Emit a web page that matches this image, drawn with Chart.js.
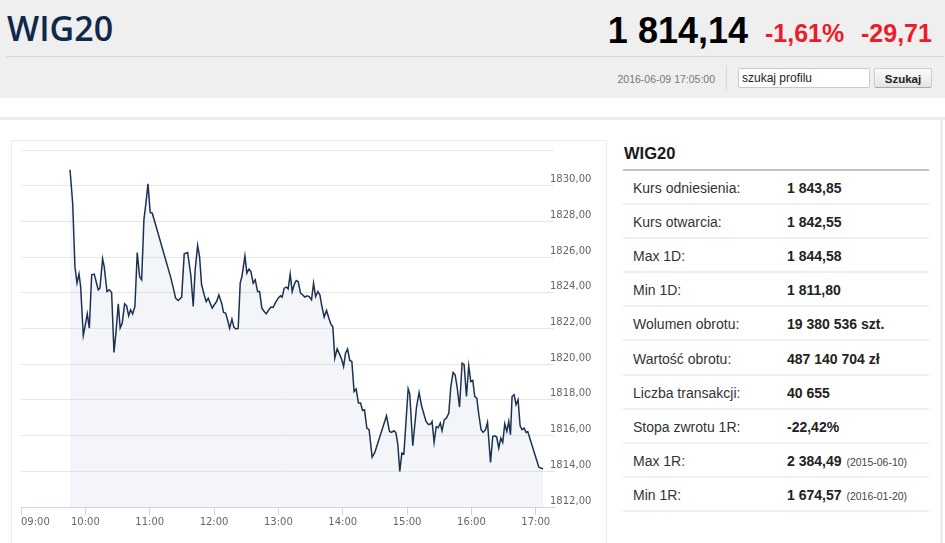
<!DOCTYPE html>
<html lang="pl">
<head>
<meta charset="utf-8">
<script src="https://cdn.jsdelivr.net/npm/chart.js@4.4.1/dist/chart.umd.min.js"></script>
<style>
  html, body { margin: 0; padding: 0; background: #fff; }
  body { width: 945px; height: 543px; overflow: hidden; position: relative; font-family: "Liberation Sans", Arial, sans-serif; }
  .abs { position: absolute; white-space: nowrap; }
  #hdr { left: 0; top: 0; width: 945px; height: 98px; background: #efefef; }
  #title { left: 7px; top: 10.5px; font: 600 34px/34px "Open Sans", sans-serif; color: #10294b; }
  #price { right: 197px; top: 12.8px; font: bold 36px/36px "Liberation Sans", Arial, sans-serif; color: #000; }
  #pct { left: 765px; top: 20.5px; font: bold 25px/25px "Liberation Sans", Arial, sans-serif; color: #ec1c2a; }
  #chg { left: 861px; top: 20.5px; font: bold 25px/25px "Liberation Sans", Arial, sans-serif; color: #ec1c2a; }
  #rule { left: 6px; top: 56px; width: 937px; height: 1px; background: #d6d6d6; }
  #date { right: 230px; top: 73.9px; font: 10.5px/10.5px "Liberation Sans", Arial, sans-serif; color: #777; }
  #vsep { left: 726px; top: 65px; width: 1px; height: 26px; background: #d9d9d9; }
  #search { left: 738px; top: 68px; width: 127px; height: 18px; background: #fff; border: 1px solid #cacaca; border-radius: 2px; padding-left: 3px; font: 12px/18px "Liberation Sans", Arial, sans-serif; color: #222; }
  #btn { left: 874px; top: 68px; width: 56px; height: 18px; border: 1px solid #cfcfcf; border-bottom-color: #aaa; border-radius: 2px; background: linear-gradient(#fbfbfb, #e4e4e4); font: bold 11.5px/20px "Liberation Sans", Arial, sans-serif; color: #222; text-align: center; }
  #band { left: 0; top: 117px; width: 945px; height: 3px; background: #ececec; }
  #rstrip { left: 940px; top: 120px; width: 3px; height: 423px; background: #eeeeee; }
  #card { left: 11px; top: 140px; width: 594px; height: 420px; border: 1px solid #ececec; background: #fff; }
  #chartBox { position: absolute; left: 12px; top: 141px; width: 594px; height: 402px; }
  #ttl2 { left: 624px; top: 144.5px; font: bold 16.5px/17px "Liberation Sans", Arial, sans-serif; color: #1a1a1a; }
  #ttlRule { left: 623px; top: 169px; width: 306px; height: 2px; background: #c4c4c4; }
  .sep { position: absolute; left: 623px; width: 306px; height: 2px; background: #f0f0f0; }
  .lab { position: absolute; left: 633px; font: 14px/14px "Liberation Sans", Arial, sans-serif; color: #333; white-space: nowrap; }
  .val { position: absolute; left: 787px; font: bold 14px/14px "Liberation Sans", Arial, sans-serif; color: #222; white-space: nowrap; }
  .val small { font: normal 10.5px "Liberation Sans", Arial, sans-serif; color: #444; margin-left: 2px; }
</style>
</head>
<body>
<div id="hdr" class="abs"></div>
<div id="title" class="abs">WIG20</div>
<div id="price" class="abs">1 814,14</div>
<div id="pct" class="abs">-1,61%</div>
<div id="chg" class="abs">-29,71</div>
<div id="rule" class="abs"></div>
<div id="date" class="abs">2016-06-09 17:05:00</div>
<div id="vsep" class="abs"></div>
<div id="search" class="abs">szukaj profilu</div>
<div id="btn" class="abs">Szukaj</div>
<div id="band" class="abs"></div>
<div id="rstrip" class="abs"></div>
<div id="card" class="abs"></div>
<div id="chartBox"><canvas id="c"></canvas></div>
<div id="ttl2" class="abs">WIG20</div>
<div id="ttlRule" class="abs"></div>
<div id="table"></div>

<script>
// ---- chart data (minutes after 09:00, index value) ----
const times = [
  45.7,48.2,50.3,52.2,54.1,55.6,58.1,60.3,61.8,63.7,
  65.9,68.3,72.0,73.6,76.1,77.6,80.2,82.3,84.5,86.7,
  88.5,90.7,92.5,94.4,96.6,98.5,100.4,102.2,104.1,106.2,
  108.4,110.6,112.5,114.6,116.5,118.4,120.5,122.4,139.8,144.2,
  146.6,149.8,152.2,155.4,158.4,160.6,162.4,164.7,166.5,168.4,
  170.8,172.7,174.6,176.4,178.3,180.2,182.4,184.5,187.1,188.9,
  190.8,192.6,194.5,196.7,198.5,200.4,202.5,204.4,206.0,208.8,
  210.6,212.5,214.4,216.5,218.4,220.6,222.5,224.6,226.8,228.6,
  231.1,233.0,235.1,237.4,239.8,242.0,243.5,245.4,247.6,249.1,
  251.0,252.9,254.7,256.6,258.4,260.7,262.5,264.7,266.8,268.7,
  270.9,272.8,274.7,276.8,278.7,280.3,282.7,284.9,287.1,288.9,
  290.8,292.6,294.8,296.6,298.9,300.8,302.6,304.5,306.6,308.5,
  310.6,312.5,314.7,316.6,318.5,320.3,322.5,324.6,327.4,329.9,
  340.8,343.6,345.5,347.6,349.5,351.4,353.2,355.1,357.0,361.0,
  362.5,365.3,368.8,371.2,373.5,375.6,377.7,380.0,382.1,383.3,
  385.2,387.2,388.9,391.0,392.6,394.7,396.8,398.9,400.8,402.9,
  404.8,406.6,408.9,411.3,413.2,415.4,417.5,419.4,421.3,423.1,
  425.0,426.9,429.0,430.9,433.1,435.0,437.8,439.9,441.8,443.6,
  445.5,447.4,449.2,451.1,453.0,454.8,456.4,457.9,459.8,461.6,
  463.5,465.4,467.2,469.1,471.0,472.5,474.1,482.8,484.6,486.8
];
const prices = [
  1830.89,1829.02,1825.47,1824.54,1825.06,1824.35,1821.61,1822.30,1822.82,1822.02,
  1825.01,1825.05,1824.17,1824.26,1825.90,1825.47,1824.07,1824.17,1824.02,1820.66,
  1821.74,1823.38,1822.02,1822.30,1823.38,1823.27,1822.71,1823.05,1822.82,1823.23,
  1826.26,1824.91,1824.73,1828.09,1829.02,1830.10,1828.50,1828.46,1824.82,1823.70,
  1823.57,1823.76,1826.18,1826.26,1824.95,1823.23,1825.29,1826.65,1826.03,1824.45,
  1823.89,1823.51,1823.70,1823.42,1823.14,1823.33,1823.51,1823.89,1823.42,1822.90,
  1822.86,1822.49,1822.02,1822.53,1822.08,1821.97,1822.00,1824.54,1824.91,1826.07,
  1825.10,1825.33,1825.19,1824.54,1824.73,1824.07,1824.07,1823.14,1822.95,1822.82,
  1823.05,1823.20,1823.18,1823.46,1823.70,1823.83,1823.76,1824.26,1824.32,1824.21,
  1825.05,1824.07,1824.45,1824.69,1824.63,1823.98,1823.89,1823.76,1823.83,1823.79,
  1823.61,1824.54,1823.79,1824.07,1823.89,1823.33,1822.64,1823.01,1822.58,1822.26,
  1822.08,1820.34,1820.86,1820.62,1820.29,1819.87,1820.62,1820.85,1820.21,1820.15,
  1818.47,1818.61,1817.82,1817.82,1817.41,1817.45,1816.42,1816.33,1814.80,1815.06,
  1817.11,1816.23,1816.18,1816.27,1816.18,1815.49,1813.99,1815.02,1814.97,1818.62,
  1818.34,1815.43,1817.60,1818.42,1817.67,1817.22,1816.79,1816.61,1816.66,1816.79,
  1815.62,1816.50,1816.44,1816.70,1816.27,1816.89,1816.98,1817.26,1818.75,1819.54,
  1819.41,1818.75,1817.60,1820.06,1819.97,1818.19,1819.91,1819.03,1819.09,1818.19,
  1818.10,1817.17,1816.33,1816.18,1816.33,1816.74,1814.50,1815.95,1815.99,1815.92,
  1815.30,1815.86,1815.62,1816.66,1816.23,1816.79,1816.05,1818.19,1818.29,1817.73,
  1818.01,1816.55,1816.33,1816.42,1816.18,1816.23,1815.92,1814.24,1814.18,1814.14
];
const hourTicks = [0, 60, 120, 180, 240, 300, 360, 420, 480];
const hourLabels = ['09:00','10:00','11:00','12:00','13:00','14:00','15:00','16:00','17:00'];
const xMin = 0, xMax = 497;
const yTicks = [1812, 1814, 1816, 1818, 1820, 1822, 1824, 1826, 1828, 1830, 1832];

// ---- side table ----
const rowLabels = ['Kurs odniesienia:','Kurs otwarcia:','Max 1D:','Min 1D:','Wolumen obrotu:','Wartość obrotu:','Liczba transakcji:','Stopa zwrotu 1R:','Max 1R:','Min 1R:'];
const rowValues = ['1 843,85','1 842,55','1 844,58','1 811,80','19 380 536 szt.','487 140 704 zł','40 655','-22,42%','2 384,49','1 674,57'];
const rowDates  = ['','','','','','','','','(2015-06-10)','(2016-01-20)'];

const tbl = document.getElementById('table');
rowLabels.forEach((lab, i) => {
  const top = 181 + 34.1 * i;
  const l = document.createElement('div'); l.className = 'lab'; l.style.top = top + 'px'; l.textContent = lab; tbl.appendChild(l);
  const v = document.createElement('div'); v.className = 'val'; v.style.top = top + 'px'; v.textContent = rowValues[i];
  if (rowDates[i]) { const s = document.createElement('small'); s.textContent = ' ' + rowDates[i]; v.appendChild(s); }
  tbl.appendChild(v);
  const s = document.createElement('div'); s.className = 'sep'; s.style.top = (203 + 34.1 * i) + 'px'; tbl.appendChild(s);
});

// ---- chart ----
const axisFont = { family: "'DejaVu Sans', sans-serif", size: 10 };
new Chart(document.getElementById('c'), {
  type: 'line',
  data: {
    datasets: [{
      data: times.map((t, i) => ({ x: t, y: prices[i] })),
      borderColor: '#1c3253',
      borderWidth: 1.5,
      backgroundColor: 'rgba(211,216,228,0.25)',
      fill: 'start',
      pointRadius: 0,
      tension: 0
    }]
  },
  options: {
    responsive: true,
    maintainAspectRatio: false,
    animation: false,
    events: [],
    layout: { padding: { left: 9, top: 9, right: 0, bottom: 6 } },
    plugins: { legend: { display: false }, tooltip: { enabled: false } },
    scales: {
      x: {
        type: 'linear',
        min: xMin, max: xMax,
        afterBuildTicks: (s) => { s.ticks = hourTicks.map(v => ({ value: v })).concat([{ value: xMax }]); },
        afterFit: (s) => { s.height = 30; },
        border: { display: true, color: '#ccd6eb', width: 1 },
        grid: {
          drawOnChartArea: false, drawTicks: true, tickLength: 8,
          tickColor: (ctx) => (ctx.tick && ctx.tick.value === xMax) ? 'rgba(0,0,0,0)' : '#ccd6eb'
        },
        ticks: {
          autoSkip: false, maxRotation: 0, minRotation: 0, align: 'inner', padding: 1,
          color: '#666', font: axisFont,
          callback: (v) => { const i = hourTicks.indexOf(v); return i >= 0 ? hourLabels[i] : ''; }
        }
      },
      y: {
        type: 'linear',
        position: 'right',
        min: yTicks[0], max: yTicks[yTicks.length - 1],
        afterBuildTicks: (s) => { s.ticks = yTicks.map(v => ({ value: v })); },
        afterFit: (s) => { s.width = 52; s._computeLabelArea = () => undefined; },
        border: { display: false },
        grid: { color: '#e6e6e6', lineWidth: 1, drawTicks: false },
        ticks: {
          padding: -4, labelOffset: -6, color: '#666', font: axisFont,
          callback: (v) => v === yTicks[yTicks.length - 1] ? '' : v.toFixed(2).replace('.', ',')
        }
      }
    }
  }
});
</script>
</body>
</html>
